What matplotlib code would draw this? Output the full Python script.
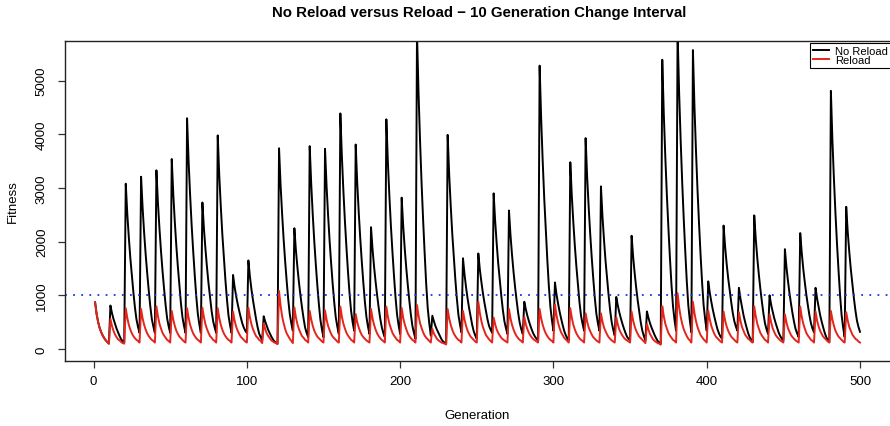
import numpy as np
import matplotlib
matplotlib.use("Agg")
import matplotlib.pyplot as plt

plt.rcParams['font.family'] = ['Liberation Sans', 'DejaVu Sans']

# fitness per generation, one row per 10-generation change interval
no_reload = [
    [870, 650, 500, 390, 310, 250, 200, 160, 130, 100],
    [810, 670, 560, 470, 380, 310, 240, 180, 150, 120],
    [3080, 2520, 2080, 1690, 1360, 1050, 770, 550, 410, 300],
    [3210, 2630, 2160, 1760, 1410, 1090, 800, 560, 420, 300],
    [3330, 2720, 2240, 1820, 1450, 1120, 820, 570, 420, 300],
    [3540, 2890, 2370, 1920, 1530, 1180, 850, 590, 430, 300],
    [4300, 3500, 2860, 2300, 1820, 1380, 980, 660, 460, 300],
    [2730, 2240, 1860, 1520, 1220, 960, 710, 520, 400, 300],
    [3980, 3240, 2660, 2140, 1700, 1290, 930, 630, 450, 300],
    [1380, 1160, 990, 840, 710, 590, 480, 400, 340, 300],
    [1650, 1350, 1110, 910, 730, 560, 410, 290, 220, 160],
    [610, 510, 430, 350, 290, 230, 180, 140, 120, 100],
    [3740, 3060, 2520, 2040, 1630, 1260, 920, 650, 480, 340],
    [2250, 1840, 1520, 1240, 990, 770, 570, 400, 300, 220],
    [3780, 3070, 2500, 2000, 1570, 1180, 830, 540, 360, 220],
    [3730, 3040, 2490, 2010, 1590, 1210, 870, 590, 420, 280],
    [4390, 3580, 2930, 2370, 1880, 1430, 1030, 710, 500, 340],
    [3810, 3100, 2540, 2050, 1620, 1230, 880, 600, 420, 280],
    [2270, 1860, 1530, 1250, 1000, 770, 570, 410, 300, 220],
    [4280, 3480, 2840, 2280, 1800, 1360, 960, 640, 440, 280],
    [2820, 2290, 1870, 1510, 1190, 900, 640, 430, 300, 190],
    [5900, 4770, 3870, 3080, 2400, 1780, 1210, 760, 480, 250],
    [620, 520, 430, 360, 300, 240, 180, 140, 120, 100],
    [3990, 3250, 2670, 2150, 1710, 1300, 940, 640, 460, 310],
    [1690, 1390, 1150, 940, 760, 600, 450, 330, 250, 190],
    [1780, 1480, 1250, 1040, 860, 700, 550, 430, 360, 300],
    [2900, 2380, 1960, 1590, 1280, 990, 730, 520, 390, 280],
    [2580, 2120, 1750, 1430, 1150, 900, 670, 490, 370, 280],
    [880, 740, 620, 520, 430, 350, 280, 230, 190, 160],
    [5280, 4290, 3500, 2810, 2220, 1670, 1180, 790, 540, 340],
    [1240, 1020, 850, 700, 570, 450, 340, 260, 200, 160],
    [3480, 2850, 2350, 1910, 1530, 1190, 870, 620, 470, 340],
    [3930, 3210, 2640, 2140, 1700, 1310, 950, 660, 480, 340],
    [3030, 2470, 2030, 1640, 1310, 1000, 720, 500, 360, 250],
    [970, 810, 680, 570, 470, 380, 300, 230, 190, 160],
    [2110, 1720, 1410, 1140, 900, 690, 490, 340, 240, 160],
    [700, 580, 480, 400, 330, 260, 200, 150, 120, 100],
    [5390, 4380, 3570, 2870, 2260, 1700, 1200, 800, 540, 340],
    [5900, 4780, 3890, 3110, 2430, 1820, 1260, 810, 530, 310],
    [5570, 4520, 3690, 2960, 2330, 1750, 1230, 810, 550, 340],
    [1260, 1050, 880, 730, 600, 480, 370, 290, 230, 190],
    [2300, 1910, 1590, 1320, 1090, 870, 670, 520, 420, 340],
    [1140, 940, 780, 630, 510, 400, 300, 220, 170, 130],
    [2490, 2050, 1690, 1390, 1120, 880, 660, 480, 370, 280],
    [1000, 830, 700, 580, 480, 390, 300, 240, 190, 160],
    [1860, 1530, 1270, 1040, 840, 660, 500, 370, 290, 220],
    [2160, 1790, 1490, 1240, 1010, 810, 630, 480, 380, 310],
    [1140, 940, 780, 630, 510, 400, 300, 220, 170, 130],
    [4810, 3890, 3160, 2520, 1960, 1460, 1000, 630, 400, 220],
    [2650, 2180, 1810, 1490, 1210, 950, 720, 530, 410, 320],
]

reload = [
    [870, 650, 500, 390, 310, 250, 200, 160, 130, 100],
    [560, 430, 340, 270, 220, 180, 160, 130, 110, 100],
    [760, 580, 450, 360, 290, 240, 200, 170, 150, 120],
    [745, 570, 450, 360, 290, 240, 200, 170, 150, 120],
    [795, 610, 470, 380, 300, 250, 210, 170, 150, 120],
    [710, 550, 430, 340, 280, 230, 200, 170, 140, 120],
    [760, 580, 450, 360, 290, 240, 200, 170, 150, 120],
    [770, 590, 460, 370, 300, 240, 210, 170, 150, 120],
    [760, 580, 450, 360, 290, 240, 200, 170, 150, 120],
    [695, 530, 420, 340, 280, 230, 200, 170, 140, 120],
    [770, 590, 460, 370, 300, 240, 210, 170, 150, 110],
    [480, 370, 290, 240, 200, 160, 140, 120, 110, 90],
    [1080, 810, 610, 480, 370, 290, 240, 190, 150, 110],
    [775, 590, 460, 370, 300, 240, 210, 170, 150, 120],
    [710, 550, 430, 340, 280, 230, 200, 170, 140, 120],
    [720, 550, 430, 350, 280, 230, 200, 170, 140, 120],
    [790, 600, 470, 380, 300, 250, 210, 170, 150, 120],
    [650, 500, 400, 320, 260, 220, 190, 160, 140, 120],
    [745, 570, 450, 360, 290, 240, 200, 170, 150, 120],
    [790, 600, 470, 380, 300, 250, 210, 170, 150, 120],
    [765, 580, 460, 370, 290, 240, 200, 170, 150, 120],
    [820, 620, 480, 390, 310, 250, 210, 180, 150, 120],
    [375, 290, 240, 190, 160, 140, 120, 110, 100, 85],
    [745, 570, 450, 360, 290, 240, 200, 170, 150, 120],
    [710, 550, 430, 340, 280, 230, 200, 170, 140, 120],
    [880, 670, 520, 410, 330, 260, 220, 180, 150, 120],
    [585, 460, 360, 300, 250, 210, 180, 160, 140, 120],
    [745, 570, 450, 360, 290, 240, 200, 170, 150, 120],
    [595, 460, 370, 300, 250, 210, 180, 160, 140, 120],
    [745, 570, 450, 360, 290, 240, 200, 170, 150, 120],
    [830, 630, 490, 390, 310, 260, 210, 180, 150, 120],
    [760, 580, 450, 360, 290, 240, 200, 170, 150, 120],
    [665, 510, 400, 330, 270, 220, 190, 160, 140, 120],
    [665, 510, 400, 330, 270, 220, 190, 160, 140, 120],
    [590, 460, 360, 300, 250, 210, 180, 160, 140, 120],
    [695, 530, 420, 340, 280, 230, 200, 170, 140, 110],
    [465, 360, 280, 230, 180, 150, 130, 110, 100, 80],
    [795, 610, 470, 380, 300, 250, 210, 170, 150, 120],
    [1040, 780, 600, 470, 370, 300, 240, 190, 160, 120],
    [880, 670, 520, 410, 330, 260, 220, 180, 150, 120],
    [715, 550, 430, 350, 280, 230, 200, 170, 140, 120],
    [695, 530, 420, 340, 280, 230, 200, 170, 140, 120],
    [685, 530, 410, 340, 270, 230, 190, 170, 140, 120],
    [795, 610, 470, 380, 300, 250, 210, 170, 150, 120],
    [645, 500, 390, 320, 260, 220, 190, 160, 140, 120],
    [645, 500, 390, 320, 260, 220, 190, 160, 140, 120],
    [790, 600, 470, 380, 300, 250, 210, 170, 150, 120],
    [695, 530, 420, 340, 280, 230, 200, 170, 140, 120],
    [710, 550, 430, 340, 280, 230, 200, 170, 140, 120],
    [685, 530, 410, 340, 270, 230, 190, 170, 140, 120],
]

threshold = 1000
x_ticks = [0, 100, 200, 300, 400, 500]
y_ticks = [0, 1000, 2000, 3000, 4000, 5000]

no_reload_y = np.concatenate(no_reload)
reload_y = np.concatenate(reload)
generation = np.arange(1, len(no_reload_y) + 1)

W, H = 890, 427
fig = plt.figure(figsize=(W / 100, H / 100), dpi=100)
left, right, top, bottom = 64.5, 890.6, 42.3, 361.7
ax = fig.add_axes([left / W, 1 - bottom / H, (right - left) / W, (bottom - top) / H])

ax.plot(generation, no_reload_y, color='black', lw=1.4, label='No Reload')
ax.plot(generation, reload_y, color='#e3261c', lw=1.4, label='Reload')
ax.axhline(threshold, color='#1a35e6', lw=1.3, linestyle=(0, (1, 3.5)))

ax.set_xlim(-18.96, 519.96)
ax.set_ylim(-218, 5734)
ax.set_xticks(x_ticks)
ax.set_yticks(y_ticks)
ax.set_yticklabels([str(v) for v in y_ticks], rotation=90, va='center')
ax.tick_params(axis='both', direction='out', length=5, width=0.9, color='#333333', labelsize=9.5)
ax.tick_params(axis='x', pad=5)
ax.tick_params(axis='y', pad=7)
for s in ax.spines.values():
    s.set_linewidth(1.0)
    s.set_color('#222222')

ax.set_xlabel('Generation', fontsize=9.5, labelpad=16)
ax.set_ylabel('Fitness', fontsize=9.5, labelpad=12)
fig.suptitle('No Reload versus Reload \u2212 10 Generation Change Interval',
             x=0.538, y=1 - 13 / H, va='center', fontsize=10.8, fontweight='bold')

leg = ax.legend(loc='upper right', borderaxespad=0, bbox_to_anchor=(1.0, 0.994),
                fontsize=8, frameon=True,
                fancybox=False, framealpha=1, edgecolor='black',
                handlelength=1.5, handletextpad=0.5, labelspacing=-0.1,
                borderpad=0.25)
leg.get_frame().set_linewidth(0.8)

fig.savefig('out.png', dpi=100)
